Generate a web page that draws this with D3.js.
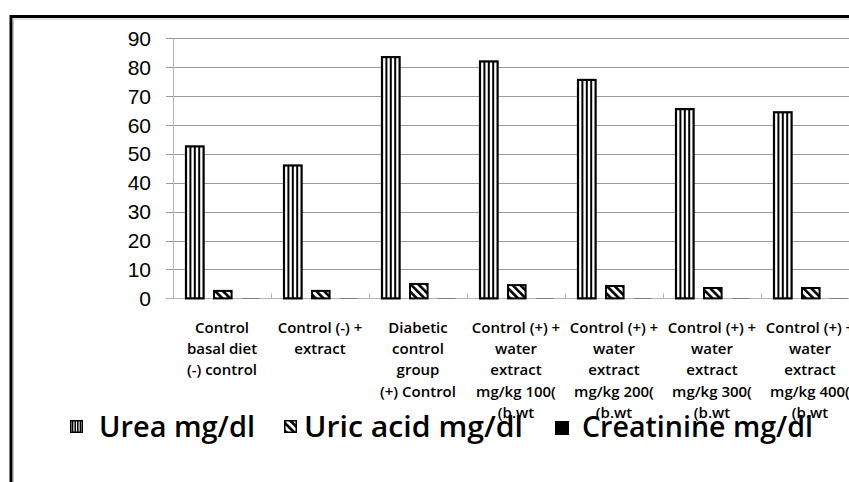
<!DOCTYPE html>
<html><head><meta charset="utf-8">
<script src="https://cdn.jsdelivr.net/npm/d3@7"></script>
<style>html,body{margin:0;padding:0;background:#fff;overflow:hidden}</style>
</head><body><svg id="c" width="849" height="482"></svg>
<script>
const categories = [
  ["Control","basal diet","(-) control"],
  ["Control (-) +","extract"],
  ["Diabetic","control","group","(+)  Control"],
  ["Control (+) +","water","extract","mg/kg 100(","(b.wt"],
  ["Control (+) +","water","extract","mg/kg 200(","(b.wt"],
  ["Control (+) +","water","extract","mg/kg 300(","(b.wt"],
  ["Control (+) +","water","extract","mg/kg 400(","(b.wt"]
];
const seriesNames = ["Urea mg/dl","Uric acid mg/dl","Creatinine mg/dl"];
const urea = [52.6, 46.0, 83.5, 82.0, 75.6, 65.5, 64.4];
const uricAcid = [2.6, 2.6, 5.0, 4.6, 4.3, 3.6, 3.6];
const creatinine = [0.1, 0.1, 0.1, 0.1, 0.1, 0.1, 0.1];
const yTicks = [0,10,20,30,40,50,60,70,80,90];

const svg = d3.select("#c");
const defs = svg.append("defs");
const pat = defs.append("pattern").attr("id","diag").attr("patternUnits","userSpaceOnUse")
  .attr("width",5.5).attr("height",5.5).attr("patternTransform","rotate(-45)");
pat.append("rect").attr("width",5.5).attr("height",5.5).attr("fill","#fff");
pat.append("rect").attr("width",2.6).attr("height",5.5).attr("fill","#000");

// frame
svg.append("rect").attr("x",11).attr("y",16.5).attr("width",900).attr("height",600)
  .attr("fill","none").attr("stroke","#000").attr("stroke-width",3);
svg.append("rect").attr("x",13.5).attr("y",19).attr("width",900).attr("height",600)
  .attr("fill","none").attr("stroke","#c8c8c8").attr("stroke-width",1);

const y = d3.scaleLinear().domain([0,90]).range([298.4,38.3]);
const x0 = d3.scaleBand().domain(d3.range(categories.length)).range([173,173+98*7]);
const x1 = d3.scaleBand().domain(seriesNames).range([12,87.6]).paddingInner(0.3);

// gridlines
svg.append("g").selectAll("line").data(yTicks).join("line")
  .attr("x1",166).attr("x2",849).attr("y1",d=>Math.round(y(d))+0.5).attr("y2",d=>Math.round(y(d))+0.5)
  .attr("stroke",d=>d===0?"#b4b4b4":"#9a9a9a").attr("stroke-width",1);
// y axis line
svg.append("line").attr("x1",173.5).attr("x2",173.5).attr("y1",y(90)).attr("y2",y(0))
  .attr("stroke","#b4b4b4");
// category ticks
svg.append("g").selectAll("line").data(d3.range(1,categories.length)).join("line")
  .attr("x1",d=>x0(d)+0.5).attr("x2",d=>x0(d)+0.5).attr("y1",y(0)-5).attr("y2",y(0))
  .attr("stroke","#b4b4b4");
// y labels
svg.append("g").selectAll("text").data(yTicks).join("text")
  .attr("x",151).attr("y",d=>y(d)).attr("dy","0.36em").attr("text-anchor","end")
  .attr("font-family","Liberation Sans, Arial, sans-serif").attr("font-size",21).attr("fill","#000")
  .text(d=>d);

const bw = x1.bandwidth();
// Urea bars
const ug = svg.append("g");
urea.forEach((v,i)=>{
  const bx = x0(i)+x1(seriesNames[0]);
  const g = ug.append("g");
  g.append("rect").attr("x",bx+1).attr("y",y(v)).attr("width",bw-2).attr("height",y(0)-y(v))
    .attr("fill","#fff").attr("stroke","#000").attr("stroke-width",2.2);
  [0.25,0.5,0.75].forEach(f=>{
    g.append("line").attr("x1",bx+1+(bw-2)*f).attr("x2",bx+1+(bw-2)*f).attr("y1",y(v)).attr("y2",y(0))
      .attr("stroke","#000").attr("stroke-width",2);
  });
});
// Uric acid bars
svg.append("g").selectAll("rect").data(uricAcid).join("rect")
  .attr("x",(d,i)=>x0(i)+x1(seriesNames[1])+1).attr("y",d=>y(d)).attr("width",bw-2)
  .attr("height",d=>y(0)-y(d)).attr("fill","url(#diag)").attr("stroke","#000").attr("stroke-width",2);
// Creatinine bars
svg.append("g").selectAll("rect").data(creatinine).join("rect")
  .attr("x",(d,i)=>x0(i)+x1(seriesNames[2])+1).attr("y",d=>y(d)).attr("width",bw-2)
  .attr("height",d=>y(0)-y(d)).attr("fill","#000");

// category labels
const cl = svg.append("g").attr("font-family","Open Sans, sans-serif").attr("font-weight",600)
  .attr("font-size",15).attr("fill","#000").attr("text-anchor","middle");
categories.forEach((lines,i)=>{
  const cx = x0(i)+x0.bandwidth()/2;
  const t = cl.append("text").attr("x",cx).attr("y",333);
  lines.forEach((s,j)=>t.append("tspan").attr("x",cx).attr("dy",j===0?0:21.2).text(s));
});

// legend
const leg = [
  {name:seriesNames[0], ix:70, tx:99, len:156},
  {name:seriesNames[1], ix:284, tx:304, len:219},
  {name:seriesNames[2], ix:555, tx:582, len:231}
];
const lg = svg.append("g");
leg.forEach((d,k)=>{
  const top = 420, s = 13;
  if(k===0){
    lg.append("rect").attr("x",d.ix+0.75).attr("y",top+0.75).attr("width",s-1.5).attr("height",s-1.5)
      .attr("fill","#fff").attr("stroke","#000").attr("stroke-width",1.5);
    [0.2,0.4,0.6,0.8].forEach(f=>lg.append("line").attr("x1",d.ix+s*f).attr("x2",d.ix+s*f)
      .attr("y1",top).attr("y2",top+s).attr("stroke","#000").attr("stroke-width",1.5));
  } else if(k===1){
    lg.append("rect").attr("x",d.ix+0.75).attr("y",top+0.75).attr("width",s-1.5).attr("height",s-1.5)
      .attr("fill","url(#diag)").attr("stroke","#000").attr("stroke-width",1.5);
  } else {
    lg.append("rect").attr("x",d.ix).attr("y",top+1).attr("width",s+1).attr("height",s+1).attr("fill","#000");
  }
  lg.append("text").attr("x",d.tx).attr("y",437).attr("font-family","Open Sans, sans-serif")
    .attr("font-weight",600).attr("font-size",28).attr("fill","#000")
    .attr("textLength",d.len).attr("lengthAdjust","spacingAndGlyphs").text(d.name);
});
</script></body></html>
